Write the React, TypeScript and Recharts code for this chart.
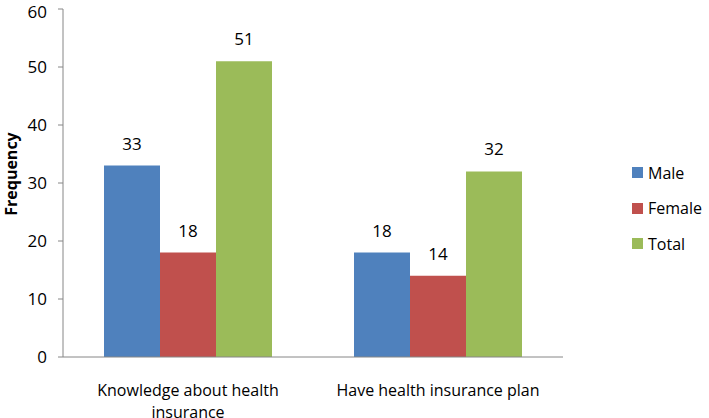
import { BarChart, Bar, XAxis, YAxis, Legend, LabelList } from "recharts";

const categories = ["Knowledge about health insurance", "Have health insurance plan"];
const male = [33, 18];
const female = [18, 14];
const total = [51, 32];
const yTicks = [0, 10, 20, 30, 40, 50, 60];

const series = [
  { key: "Male", values: male, color: "#4F81BD" },
  { key: "Female", values: female, color: "#C0504D" },
  { key: "Total", values: total, color: "#9BBB59" },
];

const data = categories.map((name, i) => ({
  name,
  Male: male[i],
  Female: female[i],
  Total: total[i],
}));

const FONT = "'Open Sans', sans-serif";

// simple greedy wrap for category labels
function wrap(text: string, maxChars: number) {
  const words = text.split(" ");
  const lines: string[] = [];
  let cur = "";
  for (const w of words) {
    const next = cur ? cur + " " + w : w;
    if (next.length > maxChars && cur) {
      lines.push(cur);
      cur = w;
    } else cur = next;
  }
  if (cur) lines.push(cur);
  return lines;
}

function CategoryTick({ x, y, payload }: any) {
  const lines = wrap(payload.value, 26);
  return (
    <text x={x} y={y} textAnchor="middle" fontFamily={FONT} fontSize={16} fill="#000">
      {lines.map((l, i) => (
        <tspan key={i} x={x} dy={i === 0 ? 31 : 22}>
          {l}
        </tspan>
      ))}
    </text>
  );
}

function YTitle({ viewBox }: any) {
  const x = 17;
  const y = viewBox.y + viewBox.height / 2 - 9;
  return (
    <text
      x={x}
      y={y}
      transform={`rotate(-90 ${x} ${y})`}
      textAnchor="middle"
      fontFamily={FONT}
      fontSize={16}
      fontWeight="bold"
      fill="#000"
    >
      Frequency
    </text>
  );
}

function LegendBox() {
  return (
    <div style={{ fontFamily: FONT, fontSize: 16, color: "#000" }}>
      {series.map((s) => (
        <div key={s.key} style={{ display: "flex", alignItems: "center", height: 35.5 }}>
          <span style={{ width: 11, height: 11, background: s.color, marginRight: 5, display: "inline-block" }} />
          {s.key}
        </div>
      ))}
    </div>
  );
}

export default function App() {
  return (
    <div style={{ position: "absolute", left: 0, top: 0, background: "#fff" }}>
      <BarChart
        width={709}
        height={418}
        data={data}
        margin={{ top: 9, right: 66, left: 11, bottom: 0 }}
        barCategoryGap="16.4%"
        barGap={0}
      >
        <XAxis
          xAxisId="edges"
          type="number"
          domain={[0, 2]}
          ticks={[0, 1, 2]}
          tick={false}
          axisLine={false}
          tickLine={{ stroke: "#868686" }}
          tickSize={5}
          height={0}
        />
        <XAxis
          xAxisId="cat"
          dataKey="name"
          tick={<CategoryTick />}
          tickLine={false}
          axisLine={{ stroke: "#868686" }}
          height={61}
          interval={0}
        />
        <YAxis
          domain={[0, 60]}
          ticks={yTicks}
          width={52}
          tickSize={5}
          tickMargin={11}
          tickLine={{ stroke: "#868686" }}
          axisLine={{ stroke: "#868686" }}
          tick={{ fontFamily: FONT, fontSize: 17, fill: "#000" }}
          label={<YTitle />}
        />
        <Legend
          layout="vertical"
          align="right"
          verticalAlign="middle"
          content={<LegendBox />}
          wrapperStyle={{ position: "absolute", left: 632, top: 155, width: 80 }}
        />
        {series.map((s) => (
          <Bar key={s.key} xAxisId="cat" dataKey={s.key} fill={s.color} isAnimationActive={false}>
            <LabelList
              dataKey={s.key}
              position="top"
              offset={16}
              style={{ fontFamily: FONT, fontSize: 17, fill: "#000" }}
            />
          </Bar>
        ))}
      </BarChart>
    </div>
  );
}
